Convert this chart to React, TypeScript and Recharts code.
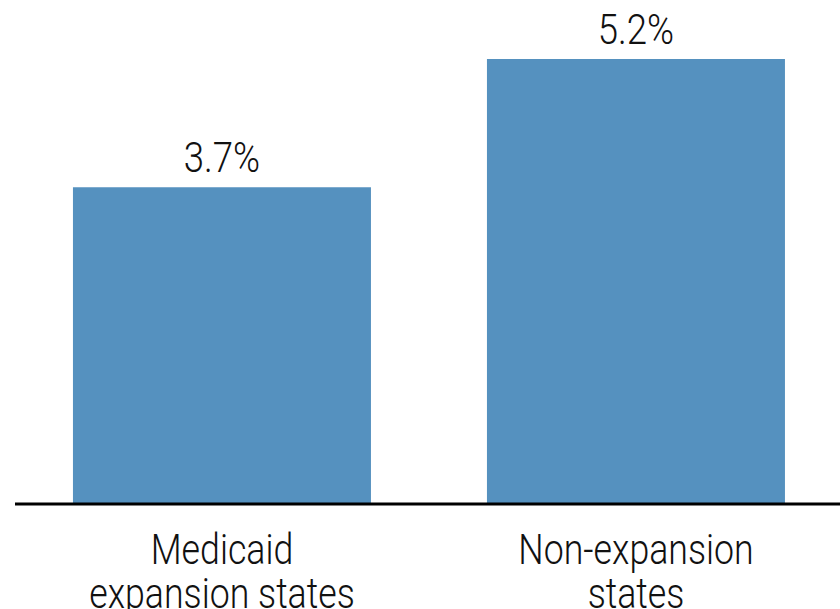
import { BarChart, Bar, XAxis, YAxis, LabelList } from 'recharts';

const categories = ['Medicaid expansion states', 'Non-expansion states'];
const tickLines = [
  ['Medicaid', 'expansion states'],
  ['Non-expansion', 'states'],
];
const rates = [3.7, 5.2];

const data = categories.map((name, i) => ({ name, rate: rates[i] }));

const barBlue = '#5591bf';
const font = 'Roboto, "Open Sans", sans-serif';
const squeeze = 0.85;

function CategoryTick({ x, y, index }: any) {
  const lines = tickLines[index] || [];
  return (
    <g transform={`translate(${x},${y}) scale(${squeeze},1)`}>
      {lines.map((line, i) => (
        <text key={i} x={0} y={52 + i * 44} textAnchor="middle" fontFamily={font} fontWeight={300} fontSize={42} fill="#111">
          {line}
        </text>
      ))}
    </g>
  );
}

function ValueLabel({ x, y, width, value }: any) {
  const cx = Number(x) + Number(width) / 2;
  return (
    <g transform={`translate(${cx},${Number(y) - 15}) scale(${squeeze},1)`}>
      <text x={0} y={0} textAnchor="middle" fontFamily={font} fontWeight={300} fontSize={43} fill="#111">
        {`${Number(value).toFixed(1)}%`}
      </text>
    </g>
  );
}

export default function App() {
  return (
    <div style={{ position: 'absolute', left: 0, top: 0, width: 840, height: 609, overflow: 'hidden', background: '#fff' }}>
      <BarChart width={843} height={609} data={data} margin={{ top: 59, right: 0, left: 15, bottom: 0 }} barCategoryGap="14%">
        <XAxis
          dataKey="name"
          height={105}
          axisLine={{ stroke: '#000', strokeWidth: 3 }}
          tickLine={false}
          interval={0}
          tick={<CategoryTick />}
        />
        <YAxis hide domain={[0, 'dataMax']} />
        <Bar dataKey="rate" fill={barBlue} isAnimationActive={false}>
          <LabelList dataKey="rate" content={<ValueLabel />} />
        </Bar>
      </BarChart>
    </div>
  );
}
